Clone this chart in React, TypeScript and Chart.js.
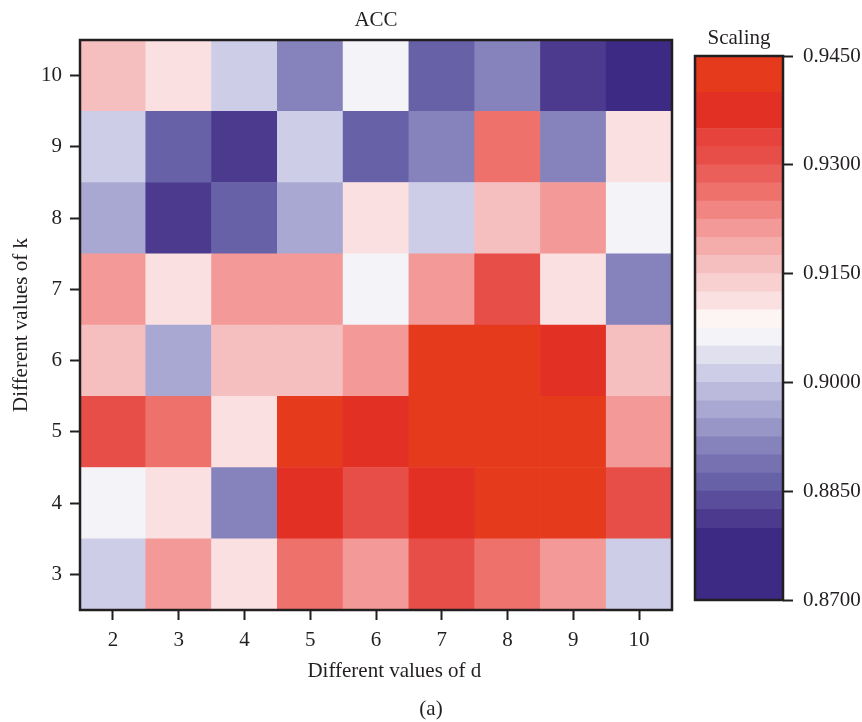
import React, { useEffect, useRef } from "react";
import { Chart, registerables } from "chart.js";

Chart.register(...registerables);

// ---- data ----
const dValues = [2, 3, 4, 5, 6, 7, 8, 9, 10];
const kValues = [3, 4, 5, 6, 7, 8, 9, 10];

// ACC for each k (columns follow dValues)
const accK3 = [0.901, 0.921, 0.911, 0.926, 0.921, 0.931, 0.926, 0.921, 0.901];
const accK4 = [0.906, 0.911, 0.891, 0.9375, 0.931, 0.9375, 0.9425, 0.9425, 0.931];
const accK5 = [0.931, 0.926, 0.911, 0.9425, 0.9375, 0.9425, 0.9425, 0.9425, 0.921];
const accK6 = [0.916, 0.896, 0.916, 0.916, 0.921, 0.9425, 0.9425, 0.9375, 0.916];
const accK7 = [0.921, 0.911, 0.921, 0.921, 0.906, 0.921, 0.931, 0.911, 0.891];
const accK8 = [0.896, 0.881, 0.886, 0.896, 0.911, 0.901, 0.916, 0.921, 0.906];
const accK9 = [0.901, 0.886, 0.881, 0.901, 0.886, 0.891, 0.926, 0.891, 0.911];
const accK10 = [0.916, 0.911, 0.901, 0.891, 0.906, 0.886, 0.891, 0.881, 0.875];
const accByK = [accK3, accK4, accK5, accK6, accK7, accK8, accK9, accK10];

// Discrete colour scale
const bandEdges = [
  0.87, 0.88, 0.8825, 0.885, 0.8875, 0.89, 0.8925, 0.895, 0.8975, 0.9, 0.9025,
  0.905, 0.9075, 0.91, 0.9125, 0.915, 0.9175, 0.92, 0.9225, 0.925, 0.9275, 0.93,
  0.9325, 0.935, 0.94, 0.945,
];
const bandColors = [
  "#3C2A84", "#4B3A8D", "#5A4E9C", "#6761A8", "#7771B2", "#8682BB", "#9895C7",
  "#A9A8D2", "#BBBADD", "#CDCDE7", "#E0E0EF", "#F3F3F8", "#FCF5F3", "#FAE0E0",
  "#F8D0D0", "#F6BFBF", "#F5ADAB", "#F39A98", "#F18581", "#EE716C", "#EB5F5A",
  "#E84E48", "#E5433B", "#E33024", "#E63A1C",
];
const scaleTicks = [0.87, 0.885, 0.9, 0.915, 0.93, 0.945];

const FONT_FAMILY = "'Liberation Serif', 'Times New Roman', serif";
const INK = "#231f20";

function colorFor(v: number): string {
  for (let i = 0; i < bandColors.length; i++) {
    if (v >= bandEdges[i] && v < bandEdges[i + 1]) return bandColors[i];
  }
  return v < bandEdges[0] ? bandColors[0] : bandColors[bandColors.length - 1];
}

const titleFont = { family: FONT_FAMILY, size: 21, weight: "normal" as const };
const tickFont = { family: FONT_FAMILY, size: 21, weight: "normal" as const };

const framePlugin = {
  id: "frame",
  afterDatasetsDraw(chart: any) {
    const { ctx, chartArea: a } = chart;
    ctx.save();
    ctx.strokeStyle = INK;
    ctx.lineWidth = 2.5;
    ctx.strokeRect(a.left, a.top, a.right - a.left, a.bottom - a.top);
    ctx.restore();
  },
};

export default function App() {
  const heatRef = useRef<HTMLCanvasElement | null>(null);
  const barRef = useRef<HTMLCanvasElement | null>(null);

  useEffect(() => {
    const heat = new Chart(heatRef.current as HTMLCanvasElement, {
      type: "bar",
      data: {
        labels: dValues.map(String),
        datasets: kValues.map((k, i) => ({
          label: "k=" + k,
          data: accByK[i].map(() => [k - 0.5, k + 0.5]) as any,
          backgroundColor: accByK[i].map(colorFor),
          borderWidth: 0,
          barPercentage: 1,
          categoryPercentage: 1,
          grouped: false,
        })),
      },
      options: {
        animation: false,
        responsive: false,
        layout: { padding: 0 },
        plugins: {
          legend: { display: false },
          tooltip: { enabled: false },
          title: {
            display: true,
            text: "ACC",
            fullSize: false,
            color: INK,
            font: titleFont,
            padding: { top: 7.4, bottom: 7.4 },
          },
          subtitle: {
            display: true,
            text: "(a)",
            position: "bottom",
            color: INK,
            font: titleFont,
            padding: { top: 11.4, bottom: 0.4 },
          },
        },
        scales: {
          x: {
            type: "category",
            offset: true,
            grid: {
              display: true,
              offset: false,
              drawOnChartArea: false,
              drawTicks: true,
              tickLength: 10,
              tickWidth: 2,
              tickColor: INK,
            },
            border: { display: false },
            ticks: { font: tickFont, color: INK, padding: 7.4 },
            title: {
              display: true,
              text: "       Different values of d",
              color: INK,
              font: titleFont,
              padding: { top: 0, bottom: 1.4 },
            },
            afterFit: (s: any) => {
              s.height = 75;
            },
          },
          y: {
            type: "linear",
            min: 2.5,
            max: 10.5,
            afterBuildTicks: (s: any) => {
              s.ticks = kValues.map((v) => ({ value: v }));
            },
            grid: {
              display: true,
              drawOnChartArea: false,
              drawTicks: true,
              tickLength: 10,
              tickWidth: 2,
              tickColor: INK,
            },
            border: { display: false },
            ticks: { font: tickFont, color: INK, padding: 8 },
            title: {
              display: true,
              text: "Different values of k",
              color: INK,
              font: titleFont,
              padding: { top: 8.4, bottom: 0 },
            },
            afterFit: (s: any) => {
              s.width = 80;
            },
          },
          ySpace: {
            type: "linear",
            position: "right",
            display: true,
            grid: { display: false },
            border: { display: false },
            ticks: { display: false },
            afterFit: (s: any) => {
              s.width = 190;
            },
          },
        },
      } as any,
      plugins: [framePlugin],
    });

    const bar = new Chart(barRef.current as HTMLCanvasElement, {
      type: "bar",
      data: {
        labels: ["Scaling"],
        datasets: bandColors.map((c, i) => ({
          label: "band" + i,
          data: [[bandEdges[i], bandEdges[i + 1]]] as any,
          backgroundColor: c,
          borderWidth: 0,
          barPercentage: 1,
          categoryPercentage: 1,
          grouped: false,
        })),
      },
      options: {
        animation: false,
        responsive: false,
        layout: { padding: { left: 15, right: 0, top: 0, bottom: 122 } },
        plugins: {
          legend: { display: false },
          tooltip: { enabled: false },
          title: {
            display: true,
            text: "Scaling",
            fullSize: false,
            color: INK,
            font: titleFont,
            padding: { top: 25.4, bottom: 5.4 },
          },
        },
        scales: {
          x: { display: false },
          y: {
            type: "linear",
            position: "right",
            min: 0.87,
            max: 0.945,
            afterBuildTicks: (s: any) => {
              s.ticks = scaleTicks.map((v) => ({ value: v }));
            },
            grid: {
              display: true,
              drawOnChartArea: false,
              drawTicks: true,
              tickLength: 10,
              tickWidth: 2,
              tickColor: INK,
            },
            border: { display: false },
            ticks: {
              font: tickFont,
              color: INK,
              padding: 10,
              callback: (v: any) => Number(v).toFixed(4),
            },
            afterFit: (s: any) => {
              s.width = 79;
            },
          },
        },
      } as any,
      plugins: [framePlugin],
    });

    return () => {
      heat.destroy();
      bar.destroy();
    };
  }, []);

  return (
    <div
      style={{
        position: "absolute",
        left: 0,
        top: 0,
        width: 862,
        height: 722,
        background: "#ffffff",
      }}
    >
      <canvas
        ref={heatRef}
        width={862}
        height={722}
        style={{ position: "absolute", left: 0, top: 0, display: "block" }}
      />
      <canvas
        ref={barRef}
        width={182}
        height={722}
        style={{ position: "absolute", left: 680, top: 0, display: "block" }}
      />
    </div>
  );
}
